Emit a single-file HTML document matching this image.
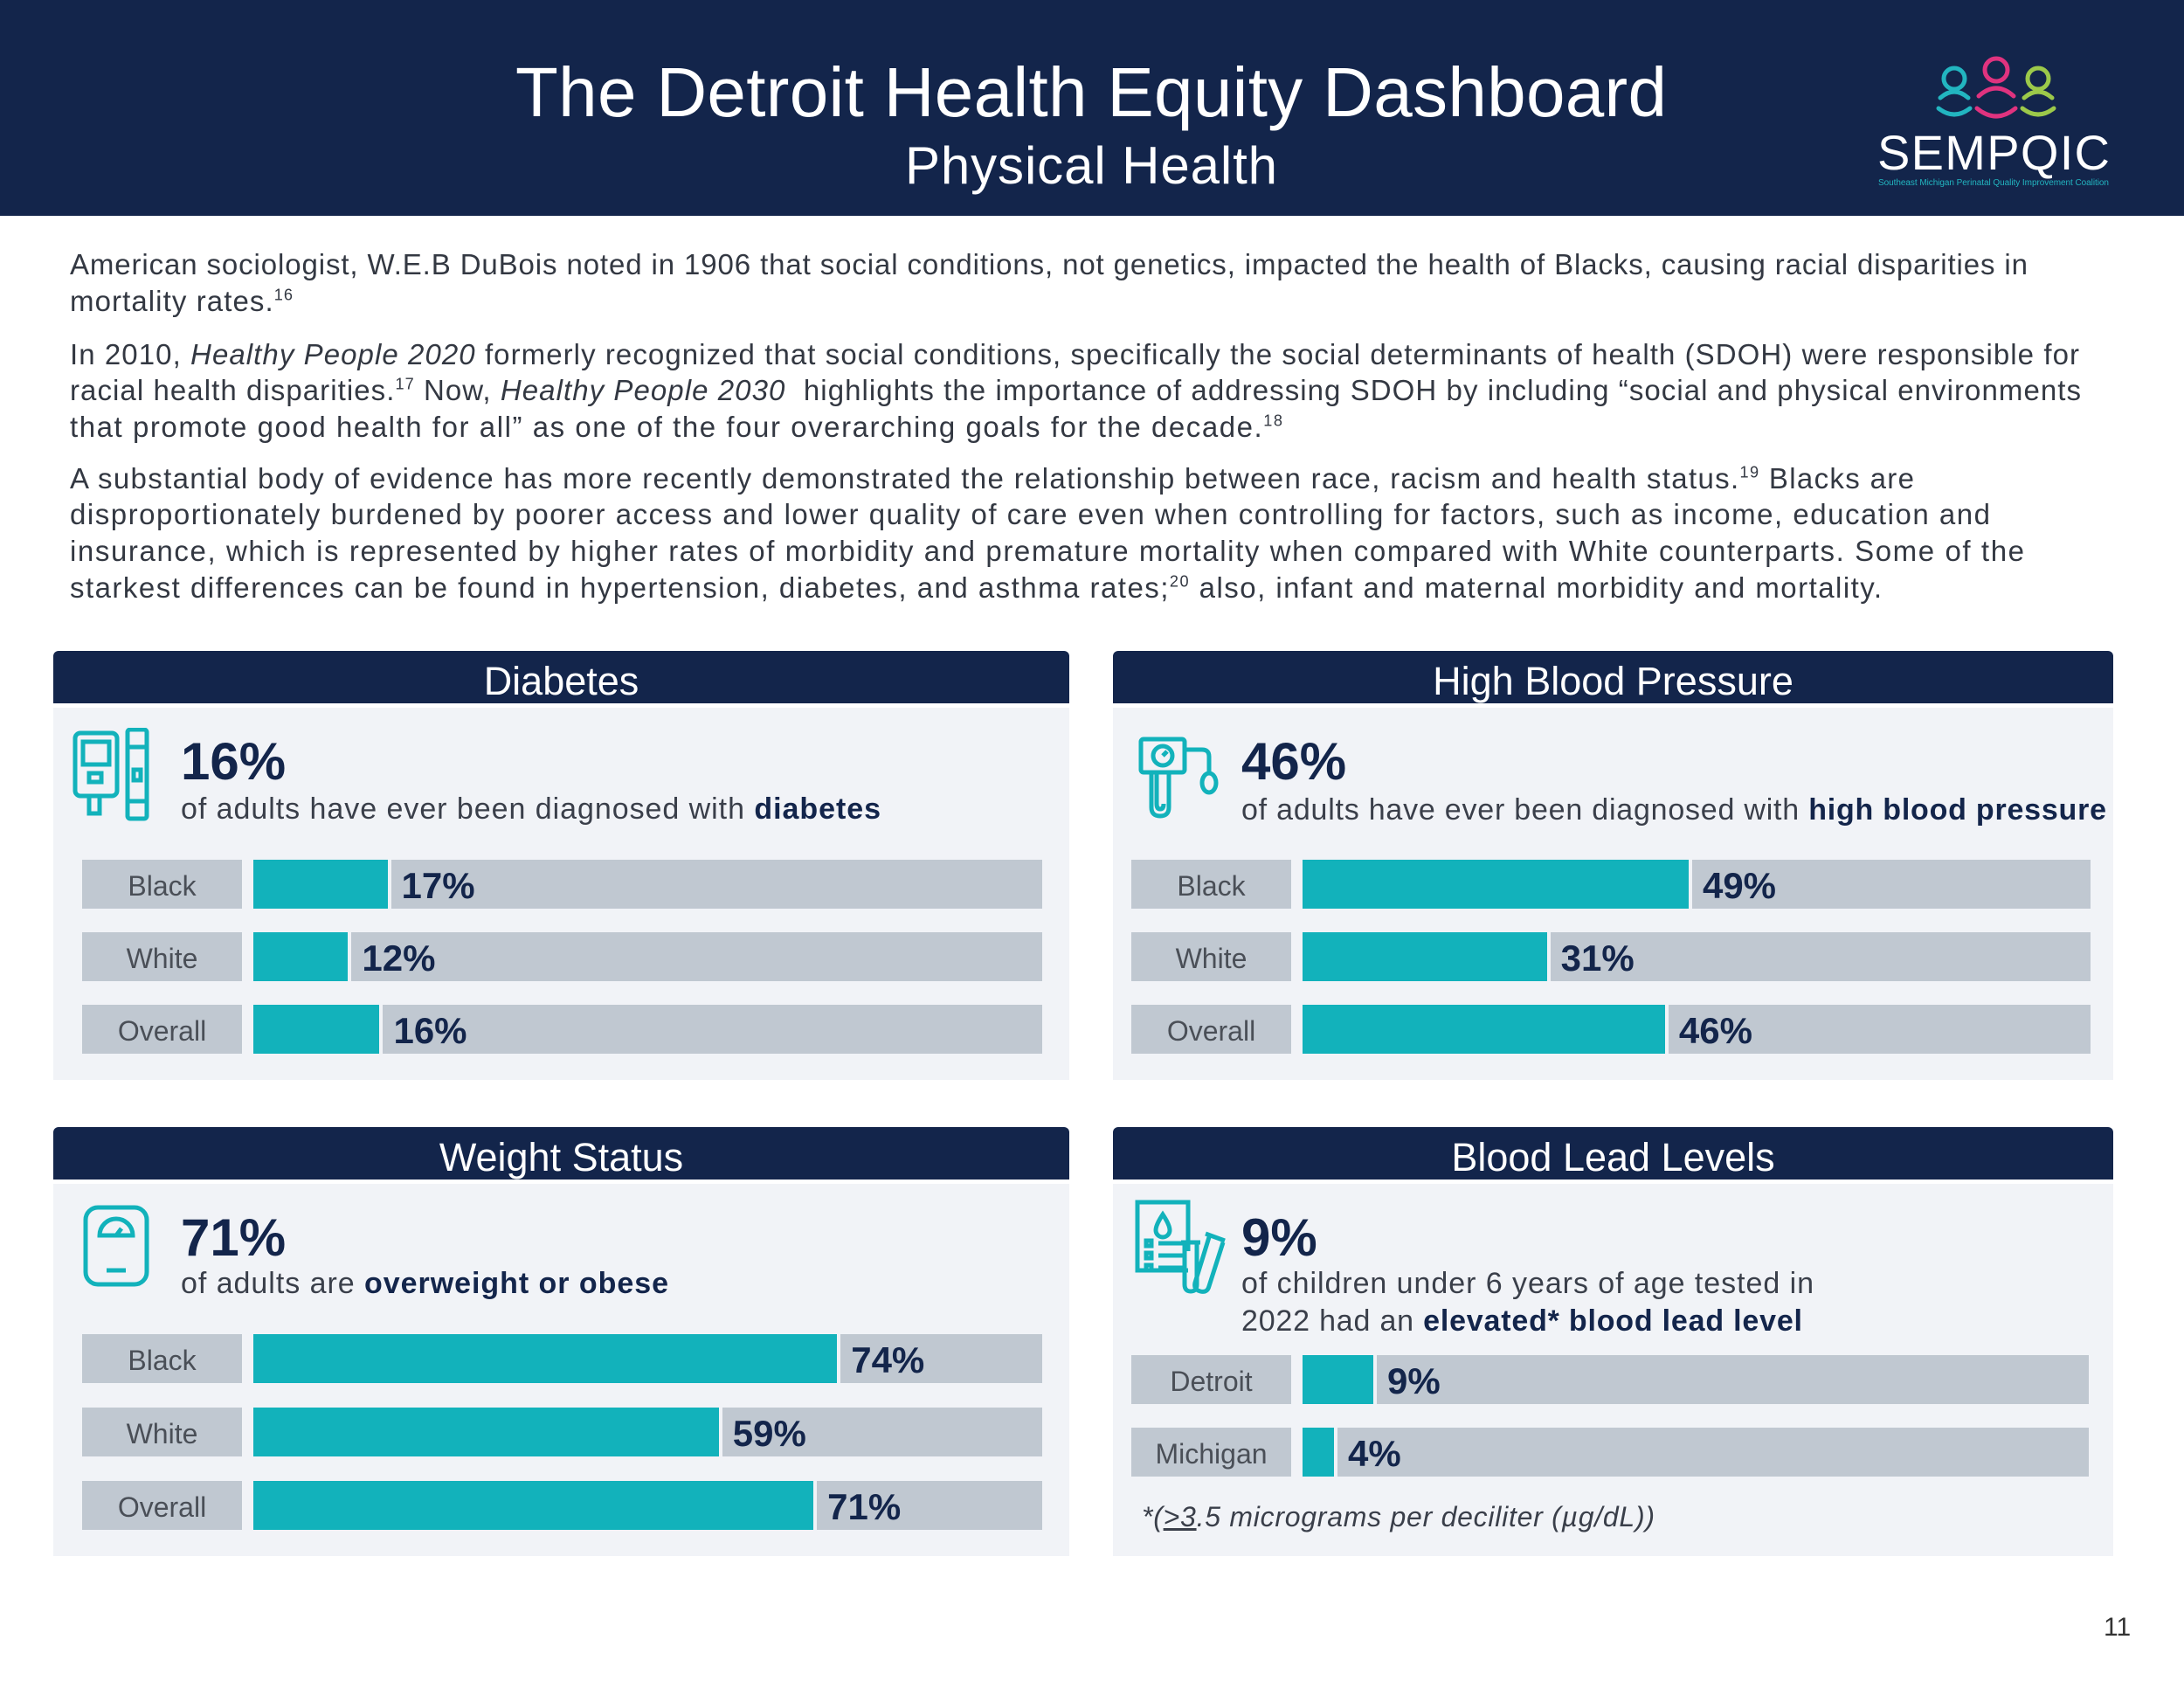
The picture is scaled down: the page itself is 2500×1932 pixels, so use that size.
<!DOCTYPE html>
<html><head><meta charset="utf-8">
<style>
body{margin:0;width:2500px;height:1932px;background:#fff;position:relative;overflow:hidden;font-family:"Liberation Sans",sans-serif;color:#2b2f3a}
.abs{position:absolute;white-space:nowrap}
.hdr{position:absolute;left:0;top:0;width:2500px;height:247px;background:#13254b}
.para{position:absolute;left:80px;font-size:33px;color:#333842;white-space:nowrap;line-height:1}
sup{font-size:0.55em;vertical-align:0.7em;line-height:0}
.ph{position:absolute;background:#13254b;color:#fff;font-size:45px;text-align:center;border-radius:6px 6px 0 0}
.pb{position:absolute;background:#f1f3f7}
.big{position:absolute;font-size:60px;font-weight:bold;color:#13254b;line-height:1}
.sub{position:absolute;font-size:34px;color:#3a3f4a;white-space:nowrap;line-height:1}
.sub b{color:#13254b}
</style></head><body>
<div class="hdr"></div>
<div class="abs fit" data-fitw="1318" style="left:590px;top:66px;font-size:80px;color:#fff;line-height:1">The Detroit Health Equity Dashboard</div>
<div class="abs fit" data-fitw="426" style="left:1036px;top:160px;font-size:60px;color:#fff;line-height:1">Physical Health</div>

<svg class="abs" style="left:2215px;top:62px" width="140" height="80" viewBox="0 0 140 80">
<g fill="none" stroke-width="5" stroke-linecap="round">
<circle cx="22" cy="28" r="12" stroke="#22b5c0"/><path d="M6 50 q16 -14 32 0 M4 62 q18 14 36 0" stroke="#22b5c0"/>
<circle cx="70" cy="18" r="13" stroke="#e0337f"/><path d="M50 48 q20 -18 40 0 M48 62 q22 18 44 0" stroke="#e0337f"/>
<circle cx="118" cy="28" r="12" stroke="#9cc94a"/><path d="M102 50 q16 -14 32 0 M100 62 q18 14 36 0" stroke="#9cc94a"/>
</g></svg>
<div class="abs fit" data-fitw="266" style="left:2149px;top:147px;font-size:56px;color:#fff;line-height:1">SEMPQIC</div>
<div class="abs fit" data-fitw="264" style="left:2150px;top:205px;font-size:10px;color:#22b5c0;line-height:1">Southeast Michigan Perinatal Quality Improvement Coalition</div>

<div class="para fit" data-fitw="2241" style="top:286px">American sociologist, W.E.B DuBois noted in 1906 that social conditions, not genetics, impacted the health of Blacks, causing racial disparities in</div>
<div class="para fit" data-fitw="255" style="top:328px">mortality rates.<sup>16</sup></div>
<div class="para fit" data-fitw="2300" style="top:389px">In 2010, <i>Healthy People 2020</i> formerly recognized that social conditions, specifically the social determinants of health (SDOH) were responsible for</div>
<div class="para fit" data-fitw="2302" style="top:430px">racial health disparities.<sup>17</sup> Now, <i>Healthy People 2030</i>&nbsp; highlights the importance of addressing SDOH by including “social and physical environments</div>
<div class="para fit" data-fitw="1388" style="top:472px">that promote good health for all” as one of the four overarching goals for the decade.<sup>18</sup></div>
<div class="para fit" data-fitw="2111" style="top:531px">A substantial body of evidence has more recently demonstrated the relationship between race, racism and health status.<sup>19</sup> Blacks are</div>
<div class="para fit" data-fitw="2198" style="top:572px">disproportionately burdened by poorer access and lower quality of care even when controlling for factors, such as income, education and</div>
<div class="para fit" data-fitw="2237" style="top:614px">insurance, which is represented by higher rates of morbidity and premature mortality when compared with White counterparts. Some of the</div>
<div class="para fit" data-fitw="2074" style="top:656px">starkest differences can be found in hypertension, diabetes, and asthma rates;<sup>20</sup> also, infant and maternal morbidity and mortality.</div>

<div class="ph" style="left:61px;top:745px;width:1163px;height:60px;line-height:70px">Diabetes</div>
<div class="pb" style="left:61px;top:810px;width:1163px;height:426px"></div>
<div class="ph" style="left:1274px;top:745px;width:1145px;height:60px;line-height:70px">High Blood Pressure</div>
<div class="pb" style="left:1274px;top:810px;width:1145px;height:426px"></div>
<div class="ph" style="left:61px;top:1290px;width:1163px;height:60px;line-height:70px">Weight Status</div>
<div class="pb" style="left:61px;top:1355px;width:1163px;height:426px"></div>
<div class="ph" style="left:1274px;top:1290px;width:1145px;height:60px;line-height:70px">Blood Lead Levels</div>
<div class="pb" style="left:1274px;top:1355px;width:1145px;height:426px"></div>

<svg class="abs" style="left:82px;top:833px" width="100" height="108" viewBox="0 0 100 108" fill="none" stroke="#12b2bb" stroke-width="5">
<rect x="4" y="6" width="48" height="72" rx="6"/><rect x="13" y="16" width="30" height="26"/><rect x="20" y="52" width="14" height="10"/><path d="M20 78v20h12v-20"/>
<rect x="64" y="2" width="22" height="102" rx="3"/><path d="M64 22h22M64 84h22"/><rect x="71" y="48" width="8" height="12"/></svg>
<svg class="abs" style="left:1302px;top:838px" width="100" height="100" viewBox="0 0 100 100" fill="none" stroke="#12b2bb" stroke-width="5">
<rect x="4" y="8" width="50" height="38" rx="3"/><circle cx="29" cy="27" r="11"/><path d="M29 27l5-5"/><path d="M16 46v40q0 10 10 10t10-10v-40M22 46v36q0 6 4 6t4-6"/><path d="M54 20h20q8 0 8 8v20"/><ellipse cx="82" cy="58" rx="8" ry="11"/></svg>
<svg class="abs" style="left:94px;top:1378px" width="80" height="98" viewBox="0 0 80 98" fill="none" stroke="#12b2bb" stroke-width="5">
<rect x="4" y="4" width="70" height="88" rx="14"/><path d="M20 36a19 19 0 0 1 38 0z"/><path d="M39 36l6-8M28 76h22"/></svg>
<svg class="abs" style="left:1298px;top:1372px" width="110" height="112" viewBox="0 0 110 112" fill="none" stroke="#12b2bb" stroke-width="5">
<path d="M62 60V4H4v78h58"/><path d="M33 18q-8 12-8 18a8 8 0 0 0 16 0q0-6-8-18z"/><rect x="14" y="48" width="6" height="6"/><rect x="14" y="62" width="6" height="6"/><rect x="14" y="76" width="6" height="6"/><path d="M28 51h30M28 65h30M28 79h30"/>
<path d="M58 50v48q0 8 7 8t7-8v-48M54 50h22"/><path d="M86 44l-16 52q-2 8 6 10t10-6l16-50M82 40l22 8"/></svg>

<div class="big" style="left:207px;top:842px">16%</div>
<div class="sub fit" data-fitw="801" style="left:207px;top:909px">of adults have ever been diagnosed with <b>diabetes</b></div>
<div class="big" style="left:1421px;top:842px">46%</div>
<div class="sub fit" data-fitw="990" style="left:1421px;top:910px">of adults have ever been diagnosed with <b>high blood pressure</b></div>
<div class="big" style="left:207px;top:1387px">71%</div>
<div class="sub fit" data-fitw="558" style="left:207px;top:1452px">of adults are <b>overweight or obese</b></div>
<div class="big" style="left:1421px;top:1387px">9%</div>
<div class="sub fit" data-fitw="655" style="left:1421px;top:1452px">of children under 6 years of age tested in</div>
<div class="sub fit" data-fitw="642" style="left:1421px;top:1495px">2022 had an <b>elevated* blood lead level</b></div>
<div class="sub fit" data-fitw="587" style="left:1307px;top:1720px;font-style:italic;font-size:32px">*(<u>&gt;3</u>.5 micrograms per deciliter (µg/dL))</div>

<div class="abs" style="left:2408px;top:1846px;font-size:30px;color:#333">11</div>

<div id="bars"></div>
<script>
const diabetesCats = ["Black", "White", "Overall"];
const diabetesVals = [17, 12, 16];
const bpCats = ["Black", "White", "Overall"];
const bpVals = [49, 31, 46];
const weightCats = ["Black", "White", "Overall"];
const weightVals = [74, 59, 71];
const leadCats = ["Detroit", "Michigan"];
const leadVals = [9, 4];

const charts = [
  {key:"diabetes", cats:diabetesCats, vals:diabetesVals, lx:94, tx:290, tw:903, y0:984, step:83},
  {key:"blood-pressure", cats:bpCats, vals:bpVals, lx:1295, tx:1491, tw:902, y0:984, step:83},
  {key:"weight", cats:weightCats, vals:weightVals, lx:94, tx:290, tw:903, y0:1527, step:84},
  {key:"blood-lead", cats:leadCats, vals:leadVals, lx:1295, tx:1491, tw:900, y0:1551, step:83}
];
const host = document.getElementById('bars');
function box(l,t,w,h,bg){const d=document.createElement('div');d.style.cssText='position:absolute;left:'+l+'px;top:'+t+'px;width:'+w+'px;height:'+h+'px;background:'+bg;host.appendChild(d);return d;}
charts.forEach(c=>{
  const xs = v => c.tw * v / 100;
  c.cats.forEach((cat,i)=>{
    const y = c.y0 + i*c.step, h = 56;
    const lab = box(c.lx, y, 183, h, '#c0c8d1');
    
    
    lab.style.cssText += ';font-size:32px;color:#4a4f57;text-align:center;line-height:60px';
    lab.textContent = cat;
    const tr = box(c.tx, y, c.tw, h, '#c0c8d1');
    
    
    const fw = xs(c.vals[i]);
    const f = box(c.tx, y, fw, h, '#12b2bb');
    
    
    const g = box(c.tx+fw, y, 4, h, '#f1f3f7');
    
    
    const v = box(c.tx+fw+16, y, 150, h, 'transparent');
    
    
    v.style.cssText += ';font-size:42px;font-weight:bold;color:#13254b;line-height:60px;white-space:nowrap';
    v.textContent = c.vals[i] + '%';
  });
});
document.querySelectorAll('.fit').forEach(el=>{
  const target = +el.getAttribute('data-fitw');
  const txt = el.textContent.length;
  const w = el.getBoundingClientRect().width;
  const ls = (target - w) / Math.max(1, txt - 1);
  el.style.letterSpacing = Math.max(-3, Math.min(8, ls)) + 'px';
});
</script>
</body></html>
